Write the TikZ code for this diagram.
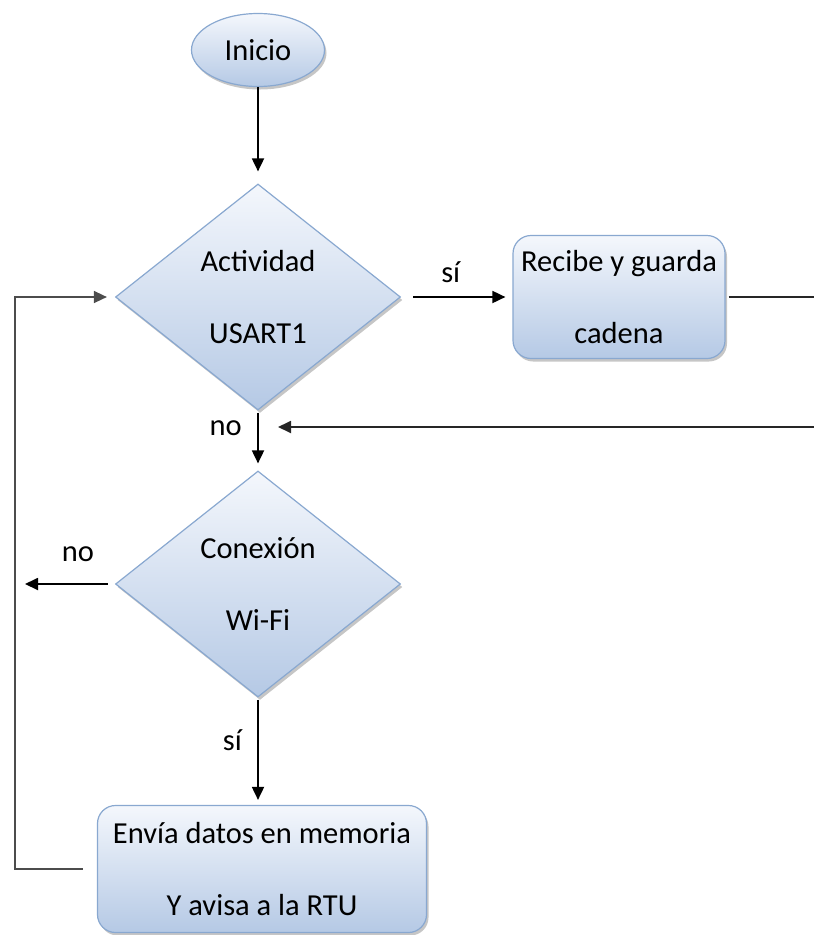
\documentclass[tikz,border=0pt]{standalone}
\usepackage{fontspec}
\setmainfont{Carlito}
\usetikzlibrary{shapes.geometric,arrows.meta,shadows}

\definecolor{boxtop}{RGB}{244,247,252}
\definecolor{boxbottom}{RGB}{181,201,229}
\definecolor{boxline}{RGB}{137,168,208}

\begin{document}
\begin{tikzpicture}[
    x=1pt, y=-1pt,
    every node/.style={font=\fontsize{30.5}{72}\selectfont},
    shapebase/.style={
        draw=boxline,
        line width=1.2pt,
        top color=boxtop,
        bottom color=boxbottom,
        drop shadow={shadow xshift=2pt, shadow yshift=-3pt, fill=black!50, opacity=0.45},
        align=center,
        inner sep=0pt
        },
    startnode/.style={shapebase, ellipse, minimum width=133pt, minimum height=73pt},
    decision/.style={shapebase, diamond, minimum width=285pt, minimum height=226pt},
    process/.style={shapebase, rectangle, rounded corners=18pt},
    answer/.style={font=\fontsize{30.5}{36}\selectfont},
    flow/.style={-{Triangle[length=13pt,width=12pt]}, line width=1.8pt, shorten >=7pt},
    backline/.style={flow, draw=black!70, line width=1.5pt}
]

\useasboundingbox (0,0) rectangle (814,935);
\clip (0,0) rectangle (814,935);

% Shapes of the flow
\node[startnode] (inicio) at (258,50) {Inicio};
\node[decision] (usart) at (258,297) {Actividad\\USART1};
\node[process, minimum width=212pt, minimum height=123pt] (recibe) at (619,297) {Recibe y guarda\\cadena};
\node[decision] (wifi) at (258,584) {Conexión\\Wi-Fi};
\node[process, minimum width=329pt, minimum height=127pt] (envia) at (262,869) {Envía datos en memoria\\Y avisa a la RTU};

% Turning points of the loops
\coordinate (merge) at (278,427);
\coordinate (rightturn) at (830,297);
\coordinate (leftend) at (25,584);
\coordinate (backleft) at (15,869);

% Arrows and labels
\draw[flow, shorten >=12pt] (inicio.south) -- (usart.north);
\draw[flow, shorten <=12pt] (usart.east) -- node[answer, above, xshift=-6pt, yshift=10pt] (si1) {sí} (recibe.west);
\draw[flow, draw=black!85, shorten <=3pt, shorten >=0pt] (recibe.east) -- (rightturn) |- (merge);
\draw[flow, shorten <=2pt] (usart.south) -- node[answer, left, pos=0.3, xshift=-12pt] (no1) {no} (wifi.north);
\draw[flow, shorten <=7pt, shorten >=0pt] (wifi.west) -- node[answer, above, pos=0.41, yshift=18pt] (no2) {no} (leftend);
\draw[flow, shorten <=2pt, shorten >=5pt] (wifi.south) -- node[answer, left, pos=0.4, xshift=-12pt] (si2) {sí} (wifi.south |- envia.north);
\draw[backline, shorten <=14pt, shorten >=8pt] (envia.west) -- (backleft) |- (usart.west);

\end{tikzpicture}
\end{document}
